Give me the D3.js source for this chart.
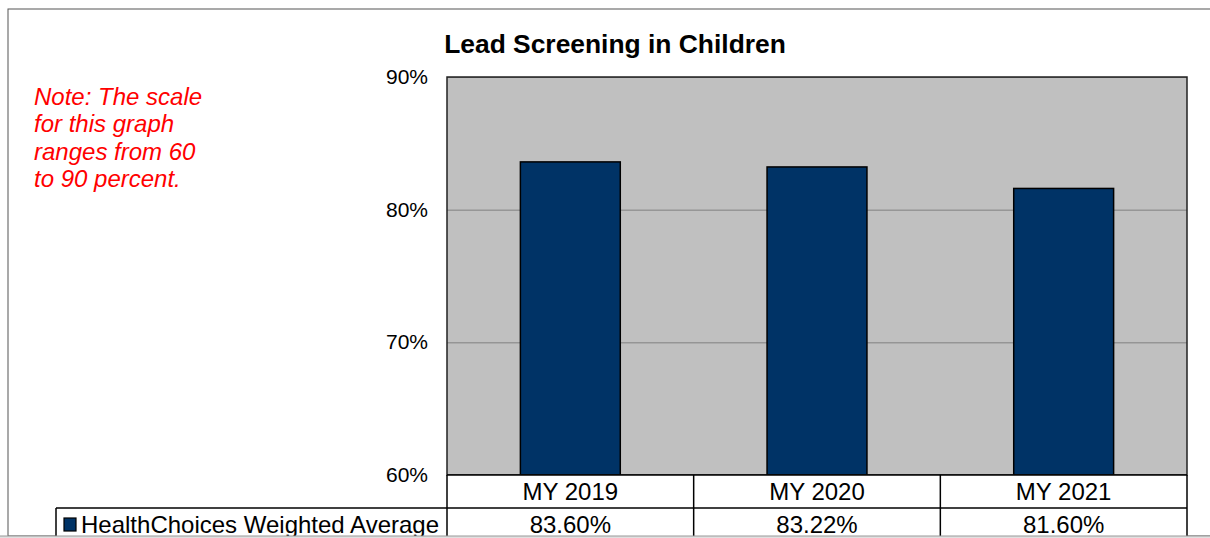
<!DOCTYPE html>
<html>
<head>
<meta charset="utf-8">
<script src="https://cdn.jsdelivr.net/npm/d3@7"></script>
<style>
  body { margin: 0; background: #fff; }
  svg { display: block; font-family: "Liberation Sans", Arial, sans-serif; }
</style>
</head>
<body>
<svg id="chart" width="1210" height="538"></svg>
<script>
// ── Data ──────────────────────────────────────────────────────────────────────
const categories = ['MY 2019', 'MY 2020', 'MY 2021'];
const values     = [83.60, 83.22, 81.60];
const yTicks     = [60, 70, 80, 90];
const seriesName = 'HealthChoices Weighted Average';
const title      = 'Lead Screening in Children';
const noteLines  = ['Note: The scale', 'for this graph', 'ranges from 60', 'to 90 percent.'];

// ── Layout ────────────────────────────────────────────────────────────────────
const plot = { left: 447, right: 1187, top: 77, bottom: 475 };
const rowH = 33;

const svg = d3.select('#chart');

// outer frame with slight shadow
svg.append('rect')
  .attr('x', 10).attr('y', 11).attr('width', 1220).attr('height', 524)
  .attr('fill', '#d8d8d8');
svg.append('rect')
  .attr('x', 8).attr('y', 9).attr('width', 1220).attr('height', 527)
  .attr('fill', '#fff').attr('stroke', '#555').attr('stroke-width', 1);

// Scales
const x = d3.scaleBand()
  .domain(categories)
  .range([plot.left, plot.right])
  .paddingInner(0.595)
  .paddingOuter(0.2975);

const xCell = d3.scaleBand()
  .domain(categories)
  .range([plot.left, plot.right]);

const y = d3.scaleLinear()
  .domain([60, 90])
  .range([plot.bottom, plot.top]);

// Plot background
svg.append('rect')
  .attr('x', plot.left).attr('y', plot.top)
  .attr('width', plot.right - plot.left).attr('height', plot.bottom - plot.top)
  .attr('fill', '#c0c0c0');

// Grid
svg.append('g')
  .attr('transform', `translate(${plot.left},0)`)
  .call(d3.axisLeft(y).tickValues(yTicks).tickSize(-(plot.right - plot.left)).tickFormat(''))
  .call(g => g.select('.domain').remove())
  .call(g => g.selectAll('line').attr('stroke', '#808080').attr('stroke-width', 1));

// Bars
svg.append('g').selectAll('rect')
  .data(values)
  .join('rect')
  .attr('x', (d, i) => x(categories[i]))
  .attr('y', d => y(d))
  .attr('width', x.bandwidth())
  .attr('height', d => y(60) - y(d))
  .attr('fill', '#003366')
  .attr('stroke', '#000')
  .attr('stroke-width', 1.5);

// Plot border
svg.append('rect')
  .attr('x', plot.left).attr('y', plot.top)
  .attr('width', plot.right - plot.left).attr('height', plot.bottom - plot.top)
  .attr('fill', 'none').attr('stroke', '#222').attr('stroke-width', 1.5);

// Y tick labels
svg.append('g').selectAll('text')
  .data(yTicks)
  .join('text')
  .attr('x', 428)
  .attr('y', d => y(d) + 7)
  .attr('text-anchor', 'end')
  .attr('font-size', 21)
  .attr('fill', '#000')
  .text(d => d + '%');

// Title
svg.append('text')
  .attr('x', 615).attr('y', 53)
  .attr('text-anchor', 'middle')
  .attr('font-size', 26.4)
  .attr('font-weight', 'bold')
  .text(title);

// Note
svg.append('g').selectAll('text')
  .data(noteLines)
  .join('text')
  .attr('x', 34)
  .attr('y', (d, i) => 105 + i * 27.3)
  .attr('font-size', 24)
  .attr('font-style', 'italic')
  .attr('fill', '#ff0000')
  .text(d => d);

// ── Data table ────────────────────────────────────────────────────────────────
const table = svg.append('g');
const r1 = plot.bottom, r2 = plot.bottom + rowH, r3 = plot.bottom + rowH * 2;

// cell backgrounds
table.append('rect')
  .attr('x', plot.left).attr('y', r1)
  .attr('width', plot.right - plot.left).attr('height', r3 - r1)
  .attr('fill', '#fff');
table.append('rect')
  .attr('x', 56).attr('y', r2)
  .attr('width', plot.left - 56).attr('height', r3 - r2)
  .attr('fill', '#fff');

const lineAttrs = s => s.attr('stroke', '#000').attr('stroke-width', 1.5);
// horizontal lines
table.append('line').attr('x1', plot.left).attr('x2', plot.right).attr('y1', r1).attr('y2', r1).call(lineAttrs);
table.append('line').attr('x1', 56).attr('x2', plot.right).attr('y1', r2).attr('y2', r2).call(lineAttrs);
// vertical lines
table.append('line').attr('x1', 56).attr('x2', 56).attr('y1', r2).attr('y2', r3 + 5).call(lineAttrs);
table.selectAll('.vl')
  .data(categories)
  .join('line')
  .attr('class', 'vl')
  .attr('x1', d => xCell(d)).attr('x2', d => xCell(d))
  .attr('y1', r1).attr('y2', r3 + 5)
  .call(lineAttrs);
table.append('line').attr('x1', plot.right).attr('x2', plot.right).attr('y1', r1).attr('y2', r3 + 5).call(lineAttrs);

// category labels
table.selectAll('.cat')
  .data(categories)
  .join('text')
  .attr('class', 'cat')
  .attr('x', d => xCell(d) + xCell.bandwidth() / 2)
  .attr('y', r1 + 25)
  .attr('text-anchor', 'middle')
  .attr('font-size', 24)
  .text(d => d);

// value labels
table.selectAll('.val')
  .data(values)
  .join('text')
  .attr('class', 'val')
  .attr('x', (d, i) => xCell(categories[i]) + xCell.bandwidth() / 2)
  .attr('y', r2 + 25)
  .attr('text-anchor', 'middle')
  .attr('font-size', 24)
  .text(d => d.toFixed(2) + '%');

// legend key
table.append('rect')
  .attr('x', 64).attr('y', r2 + 10)
  .attr('width', 12).attr('height', 13)
  .attr('fill', '#003366').attr('stroke', '#000').attr('stroke-width', 1.2);
table.append('text')
  .attr('x', 81).attr('y', r2 + 25)
  .attr('font-size', 24)
  .text(seriesName);

// bottom shadow edge
svg.append('rect')
  .attr('x', 0).attr('y', 536).attr('width', 1210).attr('height', 2)
  .attr('fill', '#e0e0e0');
svg.append('line')
  .attr('x1', 0).attr('x2', 1210).attr('y1', 536).attr('y2', 536)
  .attr('stroke', '#999').attr('stroke-width', 1);
</script>
</body>
</html>
